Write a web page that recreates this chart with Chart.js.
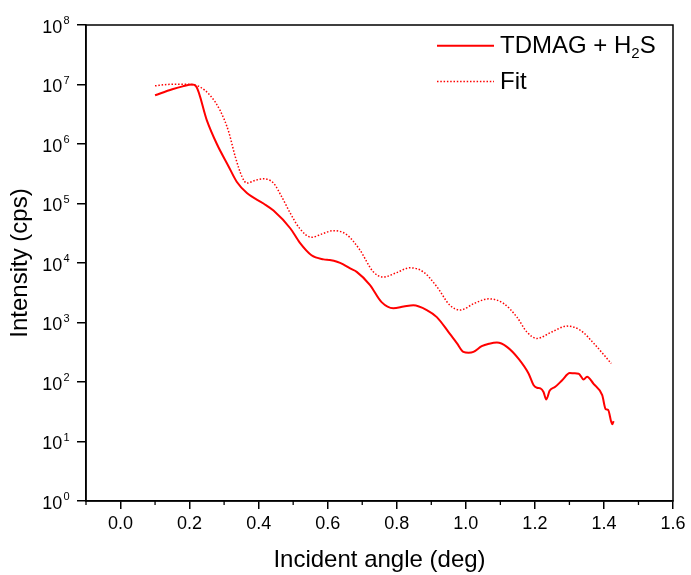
<!DOCTYPE html>
<html>
<head>
<meta charset="utf-8">
<script src="https://cdn.jsdelivr.net/npm/chart.js@4.4.1/dist/chart.umd.min.js"></script>
<style>
    html, body { margin: 0; padding: 0; background: #fff; }
</style>
</head>
<body>
<canvas id="xrr_chart" width="691" height="575"></canvas>
<script>
// measured curve (TDMAG + H2S)
const measAngle = [0.100, 0.150, 0.180, 0.207, 0.219, 0.250, 0.279, 0.313, 0.337, 0.366,
    0.414, 0.443, 0.492, 0.519, 0.553, 0.588, 0.606, 0.627, 0.645, 0.665,
    0.684, 0.722, 0.756, 0.790, 0.820, 0.848, 0.887, 0.916, 0.950, 0.974,
    0.993, 1.008, 1.022, 1.046, 1.068, 1.090, 1.119, 1.153, 1.182, 1.196,
    1.206, 1.216, 1.225, 1.233, 1.243, 1.259, 1.279, 1.301, 1.314, 1.327,
    1.341, 1.351, 1.370, 1.395, 1.405, 1.412, 1.424, 1.428];
const measIntensity = [6.6e6, 8.3e6, 9.3e6, 1.0e7, 9.3e6, 2.5e6, 1.0e6, 4.2e5, 2.3e5, 1.5e5,
    1.0e5, 7.6e4, 3.8e4, 2.2e4, 1.35e4, 1.15e4, 1.12e4, 1.05e4, 9.5e3, 8.1e3,
    7.1e3, 4.3e3, 2.2e3, 1.74e3, 1.85e3, 1.95e3, 1.62e3, 1.23e3, 690, 450,
    320, 310, 320, 400, 440, 460, 390, 245, 138, 89,
    80, 78, 68, 51, 72, 83, 107, 141, 140, 138,
    110, 123, 93, 60, 35, 34, 19.5, 22];

// simulated fit
const fitAngle = [0.100, 0.134, 0.170, 0.202, 0.230, 0.259, 0.288, 0.313, 0.332, 0.352,
    0.366, 0.390, 0.414, 0.443, 0.467, 0.492, 0.519, 0.553, 0.585, 0.616,
    0.655, 0.693, 0.732, 0.761, 0.800, 0.838, 0.877, 0.916, 0.954, 0.983,
    1.025, 1.066, 1.109, 1.148, 1.177, 1.206, 1.250, 1.293, 1.332, 1.370, 1.421];
const fitIntensity = [9.5e6, 1.0e7, 1.01e7, 1.0e7, 9.1e6, 6.6e6, 3.7e6, 1.62e6, 6.2e5, 2.8e5,
    2.2e5, 2.45e5, 2.6e5, 2.2e5, 1.29e5, 6.8e4, 3.8e4, 2.7e4, 3.1e4, 3.5e4,
    3.0e4, 1.66e4, 7.1e3, 5.8e3, 6.9e3, 8.3e3, 7.1e3, 4.0e3, 1.95e3, 1.62e3,
    2.1e3, 2.5e3, 2.1e3, 1.23e3, 690, 540, 700, 870, 740, 450, 205];

const yTickValues = [1, 10, 100, 1e3, 1e4, 1e5, 1e6, 1e7, 1e8];
const yTickExponents = ["0", "1", "2", "3", "4", "5", "6", "7", "8"];
// legend text split into [text, isSubscript] pieces
const legendParts = [
    [["TDMAG + H", false], ["2", true], ["S", false]],
    [["Fit", false]]
];

const FONT = '"Liberation Sans", Arial, sans-serif';
const isMinor = (v) => Math.round(v * 10) % 2 !== 0;

const toPoints = (xs, ys) => xs.map((x, i) => ({ x: x, y: ys[i] }));

const framePlugin = {
    id: "frame",
    afterDraw(chart) {
        const { ctx, chartArea: a } = chart;
        const xs = chart.scales.x, ys = chart.scales.y;
        ctx.save();
        ctx.strokeStyle = "#000";
        ctx.lineWidth = 1.5;
        ctx.strokeRect(a.left, a.top, a.right - a.left, a.bottom - a.top);

        // minor ticks on x
        ctx.lineWidth = 1.3;
        xs.ticks.forEach((t) => {
            if (!isMinor(t.value)) return;
            const px = xs.getPixelForValue(t.value);
            ctx.beginPath();
            ctx.moveTo(px, a.bottom);
            ctx.lineTo(px, a.bottom + 4);
            ctx.stroke();
        });

        // y labels 10^n
        ctx.fillStyle = "#000";
        ctx.textBaseline = "alphabetic";
        ys.ticks.forEach((t, i) => {
            const py = ys.getPixelForValue(t.value);
            const exp = yTickExponents[i];
            ctx.font = "11px " + FONT;
            const ew = ctx.measureText(exp).width;
            ctx.textAlign = "left";
            ctx.fillText(exp, 69.5 - ew, py - 1);
            ctx.font = "18px " + FONT;
            ctx.textAlign = "right";
            ctx.fillText("10", 68.5 - ew, py + 7.7);
        });

        // legend
        const rows = [45.7, 81.5];
        chart.data.datasets.forEach((ds, i) => {
            const y = rows[i];
            ctx.strokeStyle = ds.borderColor;
            ctx.lineWidth = ds.borderWidth;
            ctx.setLineDash(ds.borderDash || []);
            ctx.beginPath();
            ctx.moveTo(437, y);
            ctx.lineTo(494, y);
            ctx.stroke();
            ctx.setLineDash([]);
            let x = 500;
            ctx.textAlign = "left";
            ctx.fillStyle = "#000";
            legendParts[i].forEach(([txt, sub]) => {
                ctx.font = (sub ? "15px " : "24px ") + FONT;
                ctx.fillText(txt, x, y + 7.6 + (sub ? 5 : 0));
                x += ctx.measureText(txt).width;
            });
        });
        ctx.restore();
    }
};

const ctx = document.getElementById("xrr_chart").getContext("2d");
new Chart(ctx, {
    type: "line",
    data: {
        datasets: [
            {
                label: "TDMAG + H2S",
                data: toPoints(measAngle, measIntensity),
                borderColor: "#ff0000",
                borderWidth: 2,
                pointRadius: 0,
                cubicInterpolationMode: "monotone",
                fill: false
            },
            {
                label: "Fit",
                data: toPoints(fitAngle, fitIntensity),
                borderColor: "#ff0000",
                borderWidth: 1.5,
                borderDash: [1.5, 1.8],
                pointRadius: 0,
                cubicInterpolationMode: "monotone",
                fill: false
            }
        ]
    },
    options: {
        responsive: false,
        animation: false,
        devicePixelRatio: 1,
        layout: { padding: { top: 25, right: 18, left: 0, bottom: 0 } },
        plugins: { legend: { display: false }, tooltip: { enabled: false } },
        scales: {
            x: {
                type: "linear",
                min: -0.1,
                max: 1.6,
                ticks: {
                    stepSize: 0.1,
                    color: "#000",
                    font: { family: FONT, size: 18 },
                    padding: 4,
                    maxRotation: 0,
                    autoSkip: false,
                    callback: (v) => isMinor(v) ? "" : v.toFixed(1)
                },
                grid: {
                    drawOnChartArea: false,
                    drawTicks: true,
                    tickLength: 8,
                    lineWidth: 1.5,
                    color: (c) => (c.tick && isMinor(c.tick.value)) ? "rgba(0,0,0,0)" : "#000"
                },
                border: { display: true, color: "#000", width: 1.5 },
                title: {
                    display: true,
                    text: "Incident angle (deg)",
                    color: "#000",
                    font: { family: FONT, size: 24 },
                    padding: { top: 0, bottom: 0 }
                },
                afterFit: (s) => { s.height = 74; }
            },
            y: {
                type: "logarithmic",
                min: 1,
                max: 1e8,
                afterBuildTicks: (s) => { s.ticks = yTickValues.map((v) => ({ value: v })); },
                ticks: { display: false },
                grid: {
                    drawOnChartArea: false,
                    drawTicks: true,
                    tickLength: 9,
                    lineWidth: 1.5,
                    color: "#000"
                },
                border: { display: true, color: "#000", width: 1.5 },
                title: {
                    display: true,
                    text: "Intensity (cps)",
                    color: "#000",
                    font: { family: FONT, size: 24 },
                    padding: { top: 6, bottom: 0 }
                },
                afterFit: (s) => { s.width = 86; }
            }
        }
    },
    plugins: [framePlugin]
});
</script>
</body>
</html>
